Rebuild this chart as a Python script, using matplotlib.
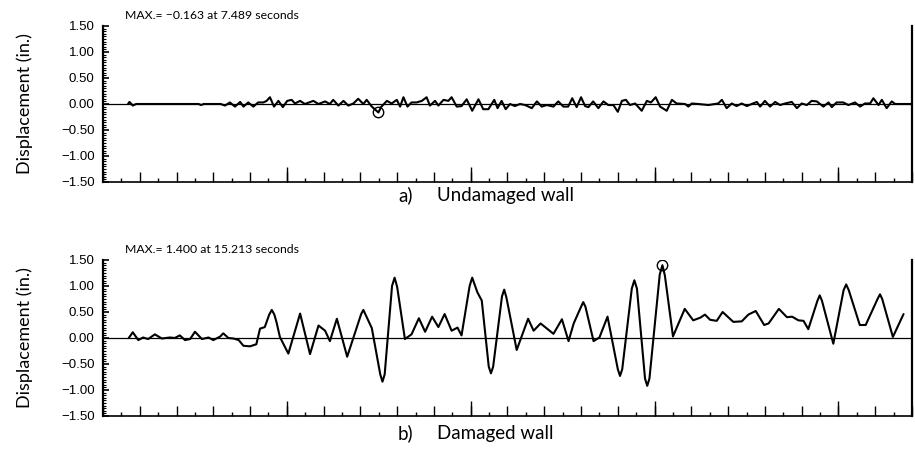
import numpy as np
import matplotlib
matplotlib.use("Agg")
import matplotlib.pyplot as plt
from matplotlib.ticker import MultipleLocator, NullFormatter

# Panel a) undamaged wall: time (s) and displacement (in.)
t_undamaged = [0.68, 0.72, 0.81, 0.90, 2.60, 2.67, 2.74, 3.20, 3.32, 3.45,
               3.59, 3.73, 3.82, 3.95, 4.09, 4.22, 4.36, 4.45, 4.54, 4.65,
               4.77, 4.89, 5.01, 5.13, 5.22, 5.36, 5.49, 5.72, 5.86, 6.04,
               6.17, 6.26, 6.40, 6.54, 6.67, 6.81, 6.94, 7.08, 7.17, 7.31,
               7.49, 7.56, 7.72, 7.85, 7.99, 8.08, 8.17, 8.28, 8.39, 8.53,
               8.67, 8.80, 8.89, 9.03, 9.12, 9.26, 9.39, 9.48, 9.62, 9.75,
               9.89, 10.04, 10.21, 10.34, 10.48, 10.64, 10.73, 10.84, 10.95, 11.07,
               11.20, 11.34, 11.48, 11.66, 11.80, 11.93, 12.07, 12.25, 12.38, 12.52,
               12.65, 12.76, 12.88, 13.00, 13.11, 13.20, 13.33, 13.47, 13.61, 13.74,
               13.88, 14.00, 14.11, 14.22, 14.33, 14.47, 14.65, 14.79, 14.90, 15.03,
               15.15, 15.33, 15.47, 15.60, 15.83, 15.92, 16.01, 16.19, 16.46, 16.73,
               16.83, 16.96, 17.10, 17.23, 17.37, 17.51, 17.64, 17.78, 17.87, 18.00,
               18.14, 18.28, 18.41, 18.55, 18.73, 18.87, 19.00, 19.14, 19.27, 19.41,
               19.59, 19.73, 19.82, 19.95, 20.13, 20.27, 20.45, 20.59, 20.72, 20.86,
               20.95, 21.09, 21.18, 21.31, 21.45, 21.54, 22.00]
d_undamaged = [0.00, 0.04, -0.03, 0.00, 0.00, -0.02, 0.00, 0.00, -0.03, 0.03,
               -0.05, 0.04, -0.05, 0.03, -0.05, 0.03, 0.03, 0.06, 0.13, -0.05,
               0.06, -0.06, 0.06, 0.08, 0.01, 0.06, 0.00, 0.06, 0.00, 0.05,
               0.00, 0.08, -0.03, 0.06, -0.03, 0.01, 0.10, 0.00, 0.08, -0.05,
               -0.163, -0.06, 0.06, 0.01, 0.08, -0.05, 0.13, -0.05, 0.03, 0.03,
               0.06, 0.13, -0.03, 0.06, -0.03, 0.08, 0.06, 0.13, -0.05, -0.04,
               0.09, -0.13, 0.09, -0.10, -0.10, 0.08, -0.08, 0.06, -0.10, 0.00,
               -0.04, 0.00, -0.02, -0.08, 0.05, -0.05, -0.02, -0.05, 0.05, -0.05,
               -0.05, 0.11, -0.06, 0.13, -0.04, -0.06, 0.05, -0.08, 0.05, -0.02,
               -0.02, -0.15, 0.06, 0.08, -0.02, 0.01, -0.13, 0.06, 0.03, 0.13,
               -0.05, -0.13, 0.08, 0.01, 0.00, -0.05, 0.01, 0.00, -0.02, 0.01,
               0.08, -0.08, 0.01, -0.04, 0.01, -0.04, 0.00, 0.04, -0.05, 0.06,
               -0.05, 0.04, -0.02, 0.01, 0.04, -0.08, 0.01, -0.02, 0.06, 0.05,
               -0.05, 0.03, -0.06, 0.03, 0.03, -0.02, 0.03, -0.05, 0.01, 0.01,
               0.11, -0.02, 0.08, -0.08, 0.05, 0.00, 0.00]

# Panel b) damaged wall
t_damaged = [0.70, 0.81, 0.96, 1.09, 1.23, 1.41, 1.60, 1.82, 1.95, 2.09,
             2.23, 2.37, 2.50, 2.69, 2.87, 3.00, 3.19, 3.27, 3.41, 3.55,
             3.69, 3.82, 4.00, 4.17, 4.27, 4.40, 4.52, 4.59, 4.66, 4.72,
             4.81, 5.04, 5.36, 5.63, 5.86, 6.04, 6.17, 6.36, 6.64, 7.02,
             7.08, 7.14, 7.31, 7.54, 7.60, 7.66, 7.86, 7.93, 8.00, 8.21,
             8.39, 8.59, 8.76, 8.95, 9.12, 9.29, 9.48, 9.64, 9.75, 9.97,
             10.04, 10.18, 10.30, 10.49, 10.55, 10.61, 10.85, 10.91, 10.97, 11.25,
             11.56, 11.71, 11.90, 12.25, 12.48, 12.66, 12.80, 13.00, 13.06, 13.12,
             13.34, 13.50, 13.72, 14.00, 14.06, 14.12, 14.38, 14.45, 14.52, 14.74,
             14.80, 14.86, 15.14, 15.213, 15.28, 15.50, 15.82, 16.05, 16.24, 16.37,
             16.51, 16.69, 16.85, 17.14, 17.37, 17.55, 17.75, 17.98, 18.10, 18.38,
             18.60, 18.74, 18.91, 19.05, 19.18, 19.43, 19.49, 19.55, 19.86, 20.14,
             20.21, 20.28, 20.58, 20.74, 21.07, 21.13, 21.19, 21.48, 21.77]
d_damaged = [0.00, 0.11, -0.04, 0.01, -0.02, 0.07, -0.01, 0.01, 0.00, 0.05,
             -0.04, -0.02, 0.12, -0.02, 0.01, -0.04, 0.03, 0.09, 0.00, -0.01,
             -0.04, -0.15, -0.16, -0.12, 0.18, 0.21, 0.45, 0.54, 0.45, 0.30,
             0.02, -0.30, 0.47, -0.31, 0.24, 0.14, -0.06, 0.37, -0.36, 0.46,
             0.54, 0.45, 0.19, -0.70, -0.84, -0.70, 1.00, 1.16, 0.98, -0.02,
             0.07, 0.38, 0.12, 0.41, 0.21, 0.46, 0.14, 0.20, 0.05, 1.00,
             1.16, 0.88, 0.72, -0.55, -0.68, -0.55, 0.80, 0.93, 0.78, -0.23,
             0.37, 0.14, 0.28, 0.08, 0.36, -0.06, 0.28, 0.60, 0.69, 0.60,
             -0.06, 0.01, 0.41, -0.60, -0.73, -0.60, 0.95, 1.11, 0.95, -0.78,
             -0.92, -0.78, 1.22, 1.400, 1.20, 0.03, 0.56, 0.34, 0.39, 0.45,
             0.35, 0.33, 0.50, 0.31, 0.32, 0.45, 0.52, 0.25, 0.28, 0.56,
             0.40, 0.41, 0.34, 0.33, 0.17, 0.72, 0.82, 0.72, -0.11, 0.92,
             1.03, 0.92, 0.25, 0.25, 0.76, 0.84, 0.75, 0.02, 0.46]

panels = [
    (t_undamaged, d_undamaged, "MAX.= \u22120.163 at 7.489 seconds", "a)", "Undamaged wall"),
    (t_damaged, d_damaged, "MAX.= 1.400 at 15.213 seconds", "b)", "Damaged wall"),
]
yticks = [-1.5, -1.0, -0.5, 0.0, 0.5, 1.0, 1.5]

W, H = 915, 453
fig = plt.figure(figsize=(W / 100, H / 100), dpi=100)

ax_boxes = [(103, 26, 912, 182), (103, 260, 912, 416)]
caption_base = [201, 439]

for (t, d, maxtxt, tag, caption), box, cy in zip(panels, ax_boxes, caption_base):
    x0, y0, x1, y1 = box
    ax = fig.add_axes([x0 / W, 1 - y1 / H, (x1 - x0) / W, (y1 - y0) / H])
    ax.axhline(0, color="black", lw=0.9, zorder=1)
    ax.plot(t, d, color="black", lw=1.5, zorder=2,
            solid_joinstyle="round", solid_capstyle="round")

    # circle round the peak value
    i = int(np.argmax(np.abs(d)))
    ax.plot(t[i], d[i], "o", mfc="none", mec="black", ms=7.5, mew=1.0, zorder=3)

    ax.set_xlim(0, 22)
    ax.set_ylim(-1.5, 1.5)
    ax.set_yticks(yticks)
    ax.set_yticklabels([f"{v:.2f}".replace("-", "\u2212") for v in yticks],
                       fontfamily="Liberation Sans", fontsize=9.5)
    ax.yaxis.set_minor_locator(MultipleLocator(0.05))
    ax.tick_params(axis="y", which="major", direction="in", length=4, width=1.2, pad=6)
    ax.tick_params(axis="y", which="minor", direction="in", length=2.5, width=0.8)

    ax.set_xticks(np.arange(0, 23, 1))
    ax.xaxis.set_minor_locator(MultipleLocator(0.5))
    ax.xaxis.set_major_formatter(NullFormatter())
    ax.tick_params(axis="x", which="major", direction="in", length=7, width=1.0)
    ax.tick_params(axis="x", which="minor", direction="in", length=3, width=1.0)

    # longer ticks every 5 seconds
    ax5 = ax.twiny()
    ax5.set_xlim(0, 22)
    ax5.set_xticks([5, 10, 15, 20])
    ax5.xaxis.set_ticks_position("bottom")
    ax5.xaxis.set_major_formatter(NullFormatter())
    ax5.tick_params(axis="x", direction="in", length=11, width=1.0)
    for s in ax5.spines.values():
        s.set_visible(False)

    ax.spines["top"].set_visible(False)
    ax.spines["left"].set_linewidth(1.6)
    ax.spines["right"].set_linewidth(1.6)
    ax.spines["bottom"].set_linewidth(1.2)

    ax.set_ylabel("Displacement (in.)", fontfamily="Lato", fontsize=13)
    ax.yaxis.set_label_coords(-0.087, 0.5)

    ax.text(0.027, 1.07, maxtxt, transform=ax.transAxes, fontfamily="Lato",
            fontsize=8.8, ha="left", va="center")

    fig.text(398 / W, 1 - cy / H, tag, fontfamily="Lato", fontsize=13.5, va="baseline")
    fig.text(437 / W, 1 - cy / H, caption, fontfamily="Lato", fontsize=13.5, va="baseline")

fig.savefig("out.png", dpi=100)
